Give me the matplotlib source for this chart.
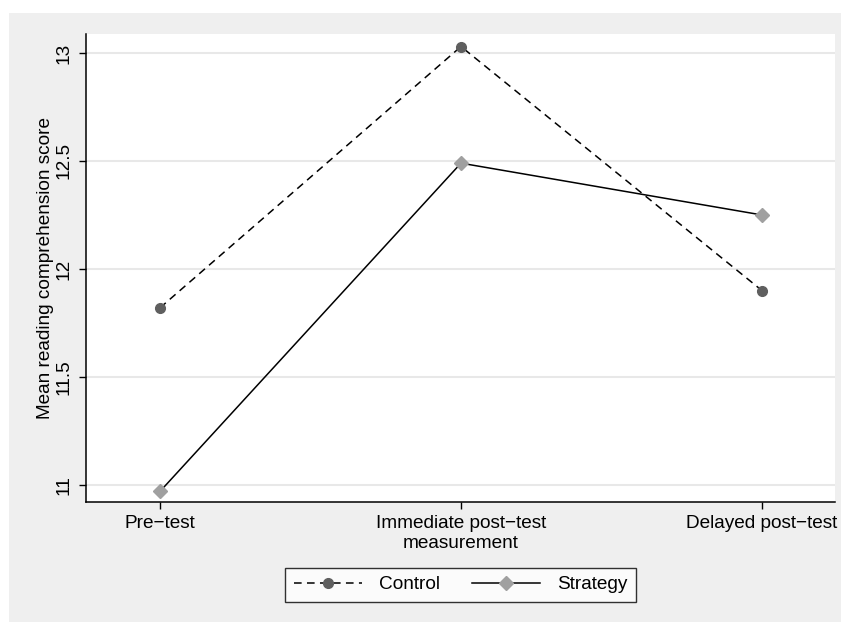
import matplotlib
matplotlib.use("Agg")
import matplotlib.pyplot as plt
from matplotlib.patches import Rectangle

# --- data ---
categories = ["Pre\u2212test", "Immediate post\u2212test\nmeasurement", "Delayed post\u2212test"]
control = [11.82, 13.03, 11.90]
strategy = [10.97, 12.49, 12.25]
y_ticks = [11, 11.5, 12, 12.5, 13]
y_tick_labels = ["11", "11.5", "12", "12.5", "13"]

plt.rcParams["font.family"] = ["Liberation Sans", "DejaVu Sans"]

fig = plt.figure(figsize=(8.41, 6.22), dpi=100)
fig.patch.set_facecolor("white")
# stata-like grey outer region
fig.patches.append(Rectangle((9 / 841, 0), 1, 1 - 13 / 622, transform=fig.transFigure,
                             facecolor="#efefef", edgecolor="none", zorder=-10))

ax = fig.add_axes([86 / 841, 1 - 502 / 622, (835 - 86) / 841, (502 - 34) / 622])
ax.set_facecolor("white")

x = list(range(len(categories)))
ax.plot(x, control, color="black", linewidth=1.1, dashes=(5, 3.5), zorder=3)
ax.plot(x, control, linestyle="none", marker="o", markersize=7, color="#5f5f5f", zorder=4)
ax.plot(x, strategy, color="black", linewidth=1.1, zorder=3)
ax.plot(x, strategy, linestyle="none", marker="D", markersize=7.5, color="#a0a0a0", zorder=4)

ax.set_xlim(-0.2458, 2.2425)
ax.set_ylim(10.921, 13.088)
ax.set_xticks(x)
ax.set_xticklabels(categories, fontsize=13.7, linespacing=1.25)
ax.set_yticks(y_ticks)
ax.set_yticklabels(y_tick_labels, fontsize=13.7, rotation=90, va="center")
ax.tick_params(axis="both", length=5, width=1, color="black")
ax.tick_params(axis="y", pad=5)
ax.tick_params(axis="x", pad=4)
ax.grid(axis="y", color="#e8e8e8", linewidth=1.5)
ax.set_axisbelow(True)
for s in ["top", "right"]:
    ax.spines[s].set_visible(False)
for s in ["left", "bottom"]:
    ax.spines[s].set_linewidth(1.1)
ax.set_ylabel("Mean reading comprehension score", fontsize=13.7, labelpad=1)

# legend handles
h_ctrl, = ax.plot([], [], color="black", linewidth=1.1, dashes=(5, 3.5),
                  marker="o", markersize=7, markerfacecolor="#5f5f5f", markeredgecolor="#5f5f5f")
h_strat, = ax.plot([], [], color="black", linewidth=1.1,
                   marker="D", markersize=7.5, markerfacecolor="#a0a0a0", markeredgecolor="#a0a0a0")
leg = ax.legend([h_ctrl, h_strat], ["Control", "Strategy"], ncol=2, fontsize=13.7,
                loc="center", bbox_to_anchor=(0.5, -0.177), frameon=True, fancybox=False,
                handlelength=3.6, handletextpad=0.85, columnspacing=1.7, borderpad=0.45)
leg.get_frame().set_edgecolor("black")
leg.get_frame().set_linewidth(1.0)

fig.savefig("out.png", dpi=100)
